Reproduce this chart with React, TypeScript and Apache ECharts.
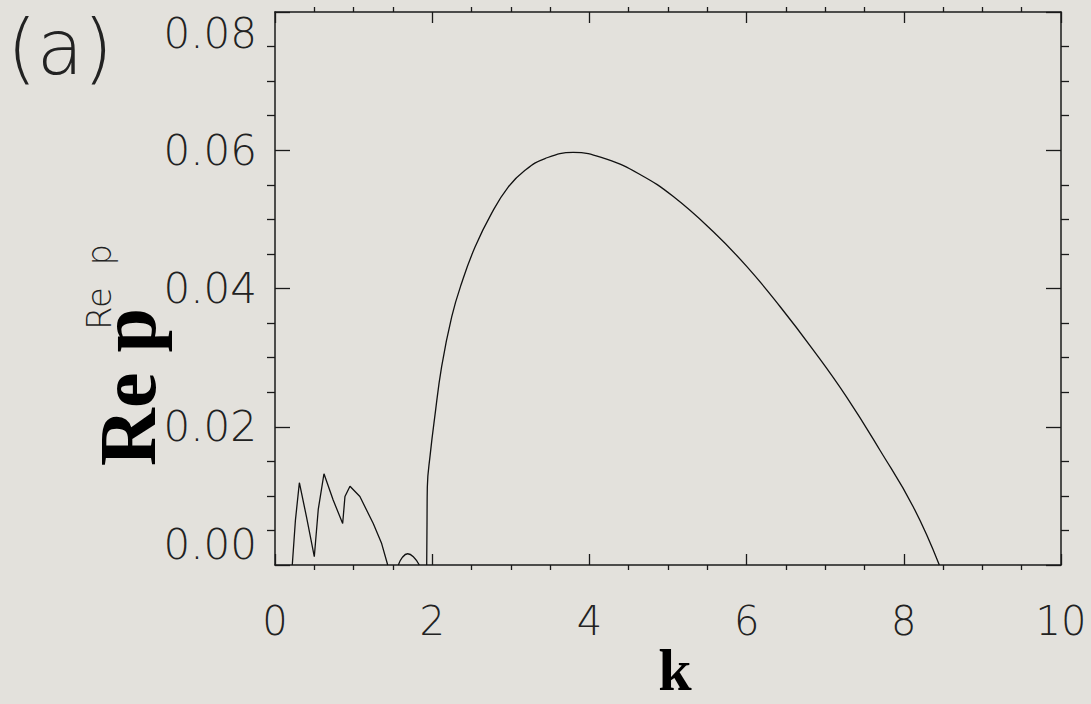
import React, { useEffect, useRef } from "react";
import * as echarts from "echarts";

// Oscillating part at small k
const oscK = [0.22, 0.26, 0.31, 0.40, 0.50, 0.55, 0.623, 0.74, 0.861, 0.89, 0.954, 1.08, 1.25, 1.357, 1.434];
const oscV = [0, 0.0065, 0.0119, 0.007, 0.0012, 0.008, 0.0132, 0.0094, 0.006, 0.0099, 0.0114, 0.0099, 0.006, 0.0031, 0];
// Small bump
const bumpK = [1.569, 1.62, 1.688, 1.76, 1.836];
const bumpV = [0, 0.0011, 0.00163, 0.0012, 0];
// Main unstable branch
const mainK = [1.93, 1.934, 1.938, 1.975, 2.03, 2.12, 2.248, 2.375, 2.545, 2.757, 2.969, 3.181, 3.435, 3.795, 4.219, 4.644, 5.068, 5.577, 6.001, 6.425, 6.849, 7.273, 7.697, 8.121, 8.452];
const mainV = [0, 0.006, 0.0113, 0.016, 0.0212, 0.0287, 0.0359, 0.0408, 0.046, 0.0509, 0.0547, 0.0571, 0.0588, 0.0597, 0.0587, 0.0565, 0.0533, 0.0482, 0.0432, 0.0374, 0.0311, 0.0243, 0.0166, 0.0084, 0];

const xMin = 0, xMax = 10, xStep = 2;
const yMin = 0, yMax = 0.08, yStep = 0.02;

const THIN = "'DejaVu Sans', sans-serif";
const SERIF = "'Liberation Serif', 'Times New Roman', serif";
const INK = "#1a1a1a";

export default function App() {
  const ref = useRef<HTMLDivElement>(null);
  useEffect(() => {
    if (!ref.current) return;
    const chart = echarts.init(ref.current, undefined, { renderer: "svg" });
    const axisLine = { show: true, onZero: false, lineStyle: { color: INK, width: 1.5 } };
    const xCommon = {
      type: "value" as const,
      min: xMin,
      max: xMax,
      interval: xStep,
      splitLine: { show: false },
      axisLine,
      axisTick: { show: true, inside: true, length: 11, lineStyle: { color: INK, width: 1.3 } },
      minorTick: { show: true, splitNumber: 4, length: -5, lineStyle: { color: INK, width: 1.3 } },
    };
    const yCommon = {
      type: "value" as const,
      min: yMin,
      max: yMax,
      interval: yStep,
      splitLine: { show: false },
      axisLine,
      axisTick: { show: true, inside: true, length: 15, lineStyle: { color: INK, width: 1.3 } },
      minorTick: { show: true, splitNumber: 4, length: -8, lineStyle: { color: INK, width: 1.3 } },
    };
    const line = (ks: number[], vs: number[], smooth: boolean) => ({
      type: "line",
      data: ks.map((k, i) => [k, vs[i]]),
      showSymbol: false,
      smooth: smooth ? 0.45 : false,
      lineStyle: { color: "#111", width: 1.3 },
      xAxisIndex: 0,
      yAxisIndex: 0,
      silent: true,
    });
    chart.setOption({
      animation: false,
      backgroundColor: "#e3e1dc",
      grid: { left: 275, right: 30, top: 12, bottom: 139, containLabel: false },
      xAxis: [
        {
          ...xCommon,
          position: "bottom",
          axisLabel: {
            show: true,
            fontFamily: THIN,
            fontWeight: 200,
            fontSize: 40,
            color: "#222",
            margin: 36,
          },
        },
        { ...xCommon, position: "top", axisLabel: { show: false } },
      ],
      yAxis: [
        {
          ...yCommon,
          position: "left",
          axisLabel: {
            show: true,
            fontFamily: THIN,
            fontWeight: 200,
            fontSize: 42,
            color: "#222",
            margin: 18,
            formatter: (v: number) => v.toFixed(2),
            verticalAlignMaxLabel: "top",
            verticalAlignMinLabel: "bottom",
          },
        },
        { ...yCommon, position: "right", axisLabel: { show: false } },
      ],
      graphic: [
        {
          type: "text",
          x: 60,
          y: 47,
          style: { text: "(a)", font: `200 76px ${THIN}`, fill: "#222", align: "center", verticalAlign: "middle" },
        },
        {
          type: "text",
          x: 128,
          y: 387,
          rotation: Math.PI / 2,
          style: { text: "Re p", font: `bold 80px ${SERIF}`, fill: "#000", align: "center", verticalAlign: "middle" },
        },
        {
          type: "text",
          x: 99,
          y: 287,
          rotation: Math.PI / 2,
          style: { text: "Re  p", font: `200 34px ${THIN}`, fill: "#222", align: "center", verticalAlign: "middle" },
        },
        {
          type: "text",
          x: 675,
          y: 670,
          style: { text: "k", font: `bold 60px ${SERIF}`, fill: "#000", align: "center", verticalAlign: "middle" },
        },
      ],
      series: [line(oscK, oscV, false), line(bumpK, bumpV, true), line(mainK, mainV, true)],
    });
    return () => chart.dispose();
  }, []);
  return (
    <div
      ref={ref}
      style={{ position: "fixed", left: 0, top: 0, width: 1091, height: 704 }}
    />
  );
}
